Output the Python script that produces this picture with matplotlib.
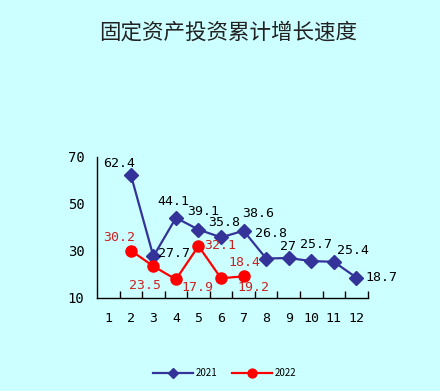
import matplotlib.pyplot as plt

plt.rcParams['font.family'] = ['Noto Sans CJK SC', 'DejaVu Sans']

months = list(range(1, 13))
m2021 = [2, 3, 4, 5, 6, 7, 8, 9, 10, 11, 12]
v2021 = [62.4, 27.7, 44.1, 39.1, 35.8, 38.6, 26.8, 27, 25.7, 25.4, 18.7]
m2022 = [2, 3, 4, 5, 6, 7]
v2022 = [30.2, 23.5, 17.9, 32.1, 18.4, 19.2]
lab2021 = ['62.4', '27.7', '44.1', '39.1', '35.8', '38.6', '26.8', '27', '25.7', '25.4', '18.7']
lab2022 = ['30.2', '23.5', '17.9', '32.1', '18.4', '19.2']

# label offsets in pixels (dx, dy, ha)
off2021 = [(-12, 11, 'center'), (5, 3, 'left'), (-3, 16, 'center'), (5, 18, 'center'),
           (3, 15, 'center'), (15, 17, 'center'), (5, 25, 'center'), (-1, 12, 'center'),
           (5, 17, 'center'), (19, 11, 'center'), (9, 0, 'left')]
off2022 = [(-12, 13, 'center'), (-8, -19, 'center'), (21, -8, 'center'), (6, 1, 'left'),
           (23, 16, 'center'), (10, -11, 'center')]

bg = '#CCFFFF'
navy = '#333399'
red = '#FF0000'

fig = plt.figure(figsize=(4.4, 3.91), dpi=100, facecolor=bg)
ax = fig.add_axes([0.2205, 0.2379, 0.615, 0.3606], facecolor=bg)

l1, = ax.plot(m2021, v2021, color=navy, lw=1.6, marker='D', markersize=7, label='2021')
l2, = ax.plot(m2022, v2022, color=red, lw=1.6, marker='o', markersize=8, label='2022')

numfont = 'DejaVu Sans Mono'
for x, y, t, (dx, dy, ha) in zip(m2021, v2021, lab2021, off2021):
    ax.annotate(t, (x, y), xytext=(dx, dy), textcoords='offset pixels', ha=ha, va='center',
                fontsize=9.5, family=numfont, color='black')
for x, y, t, (dx, dy, ha) in zip(m2022, v2022, lab2022, off2022):
    ax.annotate(t, (x, y), xytext=(dx, dy), textcoords='offset pixels', ha=ha, va='center',
                fontsize=9.5, family=numfont, color='#CC2222')

ax.set_xlim(0.5, 12.5)
ax.set_ylim(10, 70)
ax.set_yticks([10, 30, 50, 70])
ax.set_yticks([70], minor=True)
ax.set_xticks(months)
ax.set_xticks([m + 0.5 for m in months], minor=True)
ax.tick_params(axis='x', which='major', length=0, pad=10, labelsize=9.5)
ax.tick_params(axis='x', which='minor', direction='in', length=5, width=1)
ax.tick_params(axis='y', which='major', length=0, pad=9, labelsize=10)
ax.tick_params(axis='y', which='minor', direction='in', length=5, width=1)
for lbl in ax.get_xticklabels() + ax.get_yticklabels():
    lbl.set_family(numfont)
for s in ['top', 'right']:
    ax.spines[s].set_visible(False)
for s in ['left', 'bottom']:
    ax.spines[s].set_linewidth(1)

fig.text(228 / 440, 1 - 33 / 391, '固定资产投资累计增长速度', ha='center', va='center',
         fontsize=15.5, color='#222222')

fig.legend(handles=[l1, l2], loc='center', bbox_to_anchor=(225 / 440, 1 - 373 / 391),
           ncol=2, frameon=False, fontsize=7, handlelength=4.1, columnspacing=1.5,
           handletextpad=0.3, markerscale=0.8)

fig.savefig('out.png', dpi=100, facecolor=bg)
